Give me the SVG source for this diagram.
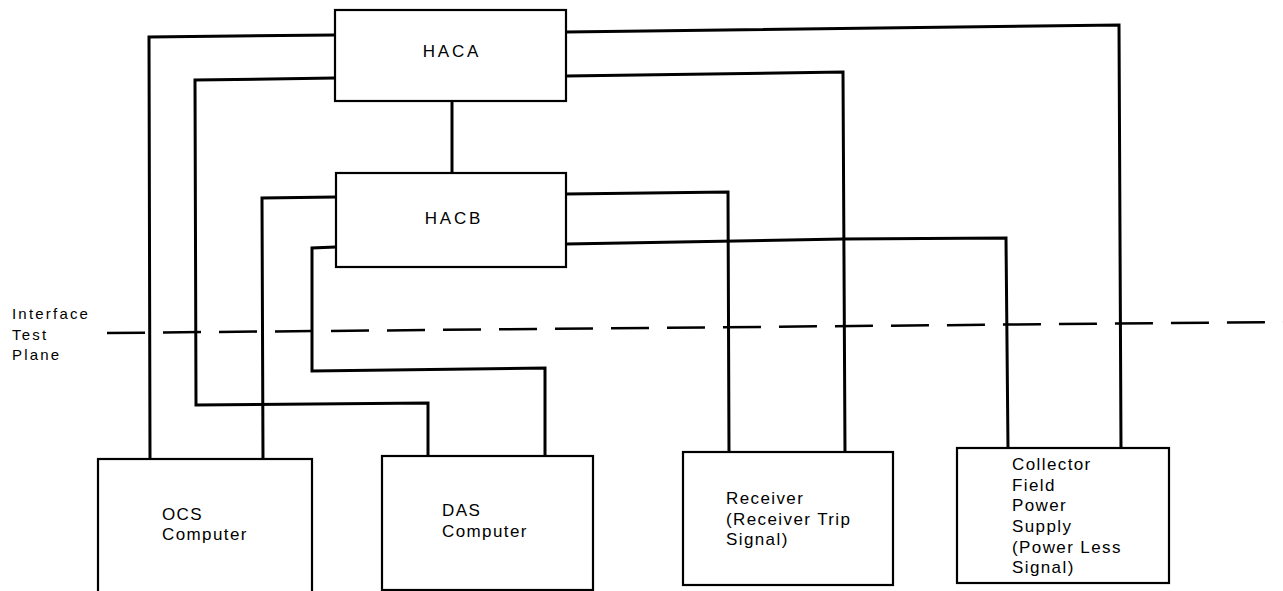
<svg xmlns="http://www.w3.org/2000/svg" width="1283" height="591" viewBox="0 0 1283 591">
  <style>
    .box { fill: #ffffff; stroke: #000000; stroke-width: 2.2; }
    .conn { fill: none; stroke: #000000; stroke-width: 3; stroke-linejoin: miter; }
    .plane { fill: none; stroke: #000000; stroke-width: 2.5; stroke-dasharray: 38 18; }
    .lbl { font-family: "Liberation Sans", Arial, Helvetica, sans-serif; font-size: 17px; fill: #000000; letter-spacing: 1.4px; }
    .title { font-family: "Liberation Sans", Arial, Helvetica, sans-serif; font-size: 17px; fill: #000000; letter-spacing: 2.8px; }
    .side { font-family: "Liberation Sans", Arial, Helvetica, sans-serif; font-size: 15px; fill: #000000; letter-spacing: 2.2px; }
  </style>
  <rect x="0" y="0" width="1283" height="591" fill="#ffffff"/>

  <g id="interface-plane">
    <line class="plane" x1="107" y1="333" x2="1283" y2="322"/>
    <text class="side" x="12" y="319">Interface</text>
    <text class="side" x="12" y="340">Test</text>
    <text class="side" x="12" y="360">Plane</text>
  </g>

  <g id="connectors">
    <polyline class="conn" points="335,35 149,37 150,459"/>
    <polyline class="conn" points="335,78 195,80 196,405 428,403 428,456"/>
    <polyline class="conn" points="336,197 262,198 263,459"/>
    <polyline class="conn" points="336,247 312,248 312,371 545,368 545,456"/>
    <polyline class="conn" points="452,101 452,173"/>
    <polyline class="conn" points="566,32 1119,25 1121,448"/>
    <polyline class="conn" points="566,76 843,72 845,452"/>
    <polyline class="conn" points="566,194 728,192 729,452"/>
    <polyline class="conn" points="566,244 843,239 1006,238 1008,448"/>
  </g>

  <g id="haca">
    <rect class="box" x="335" y="10" width="231" height="91"/>
    <text class="title" x="452" y="57" text-anchor="middle">HACA</text>
  </g>

  <g id="hacb">
    <rect class="box" x="336" y="173" width="230" height="94"/>
    <text class="title" x="454" y="224" text-anchor="middle">HACB</text>
  </g>

  <g id="ocs-computer">
    <rect class="box" x="98" y="459" width="214" height="140"/>
    <text class="lbl" x="162" y="520">OCS</text>
    <text class="lbl" x="162" y="540">Computer</text>
  </g>

  <g id="das-computer">
    <rect class="box" x="382" y="456" width="211" height="134"/>
    <text class="lbl" x="442" y="516">DAS</text>
    <text class="lbl" x="442" y="537">Computer</text>
  </g>

  <g id="receiver">
    <rect class="box" x="683" y="452" width="210" height="133"/>
    <text class="lbl" x="726" y="504">Receiver</text>
    <text class="lbl" x="726" y="525">(Receiver Trip</text>
    <text class="lbl" x="726" y="545">Signal)</text>
  </g>

  <g id="collector-field-power-supply">
    <rect class="box" x="957" y="448" width="212" height="135"/>
    <text class="lbl" x="1012" y="470">Collector</text>
    <text class="lbl" x="1012" y="491">Field</text>
    <text class="lbl" x="1012" y="511">Power</text>
    <text class="lbl" x="1012" y="532">Supply</text>
    <text class="lbl" x="1012" y="553">(Power Less</text>
    <text class="lbl" x="1012" y="573">Signal)</text>
  </g>
</svg>
